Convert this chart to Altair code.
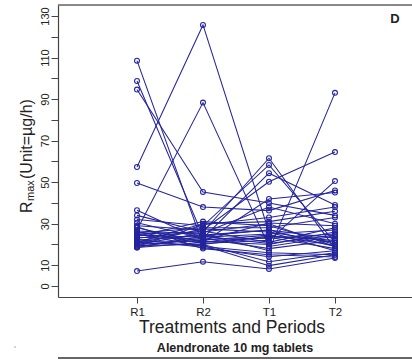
import altair as alt
import pandas as pd

periods = ["R1", "R2", "T1", "T2"]

r1 = [108.5, 98.7, 94.6, 57.3, 49.6, 7.2, 36.5, 34, 32, 30.5, 29, 28, 27, 26.5, 26, 25.5, 25, 24.5,
      24, 23.5, 23, 22.5, 22, 21.5, 21, 21, 20.5, 20, 20, 19.5, 19, 19, 18.5, 18.5, 28.5, 25]
r2 = [20, 24, 45.3, 125.7, 38, 11.7, 22, 26, 29, 23, 27, 21, 88.3, 25, 20.5, 28, 19, 23.5,
      31, 22.5, 26.5, 18.5, 24.5, 21.5, 30, 19.5, 27.5, 22, 25.5, 20, 23, 29.5, 21, 24, 18, 26]
t1 = [24, 27, 40, 26, 36.3, 8.2, 30.3, 61.5, 58.3, 54.3, 50.2, 41.9, 19, 17, 22, 28, 16, 25,
      29, 23, 21, 14.1, 27, 20, 31, 9.8, 26, 24.5, 38, 11.7, 18, 33, 23.5, 20.5, 15, 30]
t2 = [22, 19, 34, 17, 46, 13.5, 29, 18, 21, 39, 64.5, 45, 24, 93, 50.5, 33, 15, 27,
      20, 25, 28, 17, 23, 26, 36, 15, 21, 19.5, 30, 16, 22, 38, 18, 24.5, 14, 19]

series = [r1, r2, t1, t2]
rows = []
for i in range(len(r1)):
    for j, p in enumerate(periods):
        rows.append({"subject": i + 1, "pos": j + 1, "period": p, "value": series[j][i]})
df = pd.DataFrame(rows)

C = "#24249c"
AX = "#444444"
W, H = 354, 292

x = alt.X("pos:Q",
          scale=alt.Scale(domain=[-0.197, 5.167], nice=False, zero=False),
          axis=alt.Axis(values=[1, 2, 3, 4],
                        labelExpr="['','R1','R2','T1','T2'][datum.value]",
                        title=None, grid=False, tickSize=6, tickColor=AX,
                        domainColor=AX, domainWidth=1.2, labelFontSize=11.5,
                        labelColor="#222222", labelPadding=3, labelFont="Liberation Sans"))
y = alt.Y("value:Q",
          scale=alt.Scale(domain=[-5.3, 135.3], nice=False, zero=False),
          axis=alt.Axis(values=list(range(0, 140, 10)),
                        labelExpr="(datum.value > 0 && datum.value % 20 == 0) ? '' : datum.label",
                        title=None, grid=False, tickSize=7, tickColor=AX,
                        domainColor=AX, domainWidth=1.2, labelFontSize=11,
                        labelAngle=270, labelAlign="center", labelBaseline="bottom",
                        labelPadding=1, labelColor="#222222", labelFont="Liberation Sans"))

base = alt.Chart(df)
lines = base.mark_line(color=C, strokeWidth=1.05, opacity=1).encode(
    x=x, y=y, detail="subject:N", order="pos:Q")
points = base.mark_point(shape="circle", filled=False, size=24, color=C, strokeWidth=1.1,
                         opacity=1).encode(x=x, y=y)

one = pd.DataFrame({"a": [0]})


def txt(t, xv, yv, **kw):
    return alt.Chart(one).mark_text(text=t, font="Liberation Sans", **kw).encode(
        x=alt.value(xv), y=alt.value(yv))


ytitle_R = txt("R", -26, 208, angle=270, align="left", baseline="alphabetic",
               fontSize=16, color="#222222")
ytitle_max = txt("max", -24.5, 196, angle=270, align="left", baseline="alphabetic",
                 fontSize=11, color="#222222")
ytitle_rest = txt("(Unit=µg/h)", -26, 174, angle=270, align="left", baseline="alphabetic",
                  fontSize=16, color="#222222")
xtitle = txt("Treatments and Periods", 174, 328, align="center", baseline="alphabetic",
             fontSize=17.5, color="#222222")
caption = txt("Alendronate 10 mg tablets", 177, 346.5, align="center", baseline="alphabetic",
              fontSize=12.5, fontWeight="bold", color="#222222")
panel = txt("D", 337, 18, align="center", baseline="alphabetic",
            fontSize=13, fontWeight="bold", color="#222222")

top_border = alt.Chart(one).mark_rule(color="#666666", strokeWidth=1.3).encode(
    x=alt.value(0), x2=alt.value(W), y=alt.value(0))
bottom_line = alt.Chart(one).mark_rule(color="#333333", strokeWidth=1.5).encode(
    x=alt.value(0), x2=alt.value(W), y=alt.value(353))
dot = alt.Chart(one).mark_point(filled=True, size=3, color="#888888").encode(
    x=alt.value(-43), y=alt.value(342))

chart = alt.layer(
    lines, points, top_border, bottom_line, dot,
    ytitle_R, ytitle_max, ytitle_rest, xtitle, caption, panel
).properties(
    width=W, height=H,
    autosize=alt.AutoSizeParams(type="none"),
    padding={"left": 58, "top": 5, "right": 0, "bottom": 63},
).configure_view(stroke=None).configure(font="Liberation Sans", background="white")

chart.save("out.html", embed_options={"renderer": "svg", "actions": False})
